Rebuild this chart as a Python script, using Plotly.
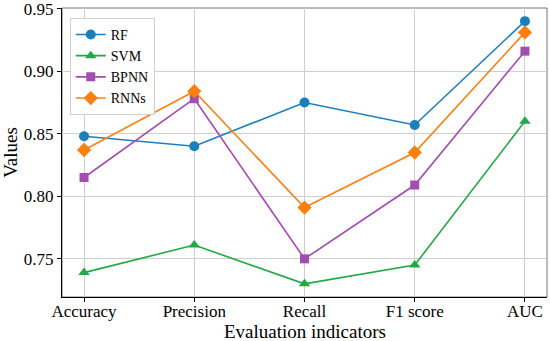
import plotly.graph_objects as go

categories = ["Accuracy", "Precision", "Recall", "F1 score", "AUC"]
rf = [0.848, 0.840, 0.875, 0.857, 0.940]
svm = [0.739, 0.761, 0.730, 0.745, 0.860]
bpnn = [0.815, 0.878, 0.750, 0.809, 0.916]
rnns = [0.837, 0.884, 0.791, 0.835, 0.931]
y_ticks = [0.75, 0.80, 0.85, 0.90, 0.95]

series = [
    ("RF", rf, "#1a7fbd", "circle", 10),
    ("SVM", svm, "#22a845", "triangle-up", 10),
    ("BPNN", bpnn, "#a34db2", "square", 9),
    ("RNNs", rnns, "#ff7f0e", "diamond", 11),
]

FONT = "Liberation Serif"
xs = list(range(len(categories)))
fig = go.Figure()
for name, vals, color, sym, size in series:
    fig.add_trace(go.Scatter(
        x=xs, y=vals, name=name, mode="lines+markers",
        line=dict(color=color, width=1.6),
        marker=dict(symbol=sym, size=size, color=color),
    ))

fig.update_layout(
    width=550, height=341,
    margin=dict(l=62, r=3, t=8, b=44, autoexpand=False),
    paper_bgcolor="white", plot_bgcolor="white",
    font=dict(family=FONT, size=17, color="black"),
    showlegend=True,
    legend=dict(x=0.016, y=0.966, xanchor="left", yanchor="top",
                bgcolor="rgba(255,255,255,0.9)", bordercolor="#d0d0d0", borderwidth=1,
                font=dict(family=FONT, size=14), tracegroupgap=0, itemwidth=30),
    xaxis=dict(
        tickmode="array", tickvals=xs, ticktext=categories,
        range=[-0.2, 4.2], showgrid=True, gridcolor="#cfcfcf", gridwidth=1,
        ticks="outside", ticklen=4, tickcolor="black", automargin=False,
        ticklabelstandoff=-5, ticklabeloverflow="allow",
        showline=True, linecolor="black", linewidth=1, zeroline=False,
    ),
    yaxis=dict(
        tickmode="array", tickvals=y_ticks, ticktext=[f"{v:.2f}" for v in y_ticks],
        range=[0.7195, 0.9505], showgrid=True, gridcolor="#cfcfcf", gridwidth=1,
        ticks="outside", ticklen=4, tickcolor="black", automargin=False,
        ticklabeloverflow="allow",
        showline=True, linecolor="black", linewidth=1, zeroline=False,
        title=dict(text="Values", font=dict(size=19), standoff=4),
    ),
    annotations=[dict(text="Evaluation indicators", xref="paper", yref="paper",
                      x=0.5, y=0, xanchor="center", yanchor="top", yshift=-22,
                      showarrow=False, font=dict(size=19))],
    shapes=[dict(type="rect", xref="paper", yref="paper", x0=0, y0=0, x1=1, y1=1,
                 line=dict(color="#777777", width=1), layer="below")],
)

fig.write_html("out.html", config={"displayModeBar": False},
               post_script="document.body.style.margin='0';document.body.style.padding='0';")
